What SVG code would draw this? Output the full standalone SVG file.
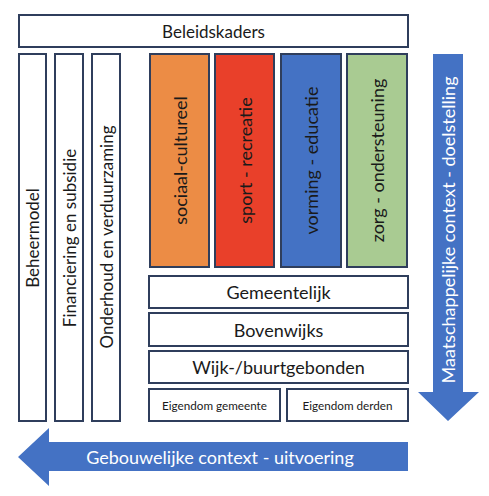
<svg xmlns="http://www.w3.org/2000/svg" width="489" height="496" viewBox="0 0 489 496">
<style>
.box{stroke:#2F3E5C;stroke-width:2}
.w{fill:#FFFFFF}
.t{font-family:Lato,"Liberation Sans",sans-serif;fill:#1A1A1A;text-anchor:middle;dominant-baseline:central}
.big{font-size:18px}
.mid{font-size:17px}
.sm{font-size:11.7px}
.wt{fill:#FFFFFF}
.arrow{fill:#4472C4}
</style>
<rect width="489" height="496" fill="#FFFFFF"/>
<g id="beleidskaders"><rect class="box w" x="19" y="15" width="389" height="32"/><text class="t mid" x="213.5" y="31">Beleidskaders</text></g>
<g id="beheermodel"><rect class="box w" x="19" y="54" width="27" height="367"/><text class="t mid" transform="translate(32.5,238) rotate(-90)">Beheermodel</text></g>
<g id="financiering"><rect class="box w" x="55" y="54" width="28" height="367"/><text class="t mid" transform="translate(69,238) rotate(-90)">Financiering en subsidie</text></g>
<g id="onderhoud"><rect class="box w" x="92" y="54" width="28" height="367"/><text class="t mid" transform="translate(106,237) rotate(-90)">Onderhoud en verduurzaming</text></g>
<g id="sociaal"><rect class="box" fill="#EC8C45" x="150" y="54" width="59" height="213"/><text class="t big" transform="translate(179.5,160.5) rotate(-90)">sociaal-cultureel</text></g>
<g id="sport"><rect class="box" fill="#E9402A" x="215" y="54" width="59" height="213"/><text class="t big" transform="translate(244.5,160.5) rotate(-90)">sport - recreatie</text></g>
<g id="vorming"><rect class="box" fill="#4472C4" x="281" y="54" width="60" height="213"/><text class="t big" transform="translate(311,160.5) rotate(-90)">vorming - educatie</text></g>
<g id="zorg"><rect class="box" fill="#A9CB92" x="347" y="54" width="60" height="213"/><text class="t big" transform="translate(377,160.5) rotate(-90)">zorg - ondersteuning</text></g>
<g id="gemeentelijk"><rect class="box w" x="149" y="276" width="259" height="32"/><text class="t big" x="278.5" y="292">Gemeentelijk</text></g>
<g id="bovenwijks"><rect class="box w" x="149" y="313" width="259" height="33"/><text class="t big" x="278.5" y="329.5">Bovenwijks</text></g>
<g id="wijk"><rect class="box w" x="149" y="351" width="259" height="32"/><text class="t big" x="278.5" y="367">Wijk-/buurtgebonden</text></g>
<g id="eigendom-gemeente"><rect class="box w" x="149" y="389" width="131" height="32"/><text class="t sm" x="214.5" y="405">Eigendom gemeente</text></g>
<g id="eigendom-derden"><rect class="box w" x="287" y="389" width="121" height="32"/><text class="t sm" x="347.5" y="405">Eigendom derden</text></g>
<g id="connectors">
<g id="maatschappelijk"><polygon class="arrow" points="433,54 463,54 463,392 479,392 448,421 418,392 433,392"/><text class="t big wt" transform="translate(448,230) rotate(-90)">Maatschappelijke context  - doelstelling</text></g>
<g id="gebouwelijk"><polygon class="arrow" points="408,442 408,471 49,471 49,486 18,457 49,428 49,442"/><text class="t big wt" x="220" y="457">Gebouwelijke context - uitvoering</text></g>
</g>
</svg>
